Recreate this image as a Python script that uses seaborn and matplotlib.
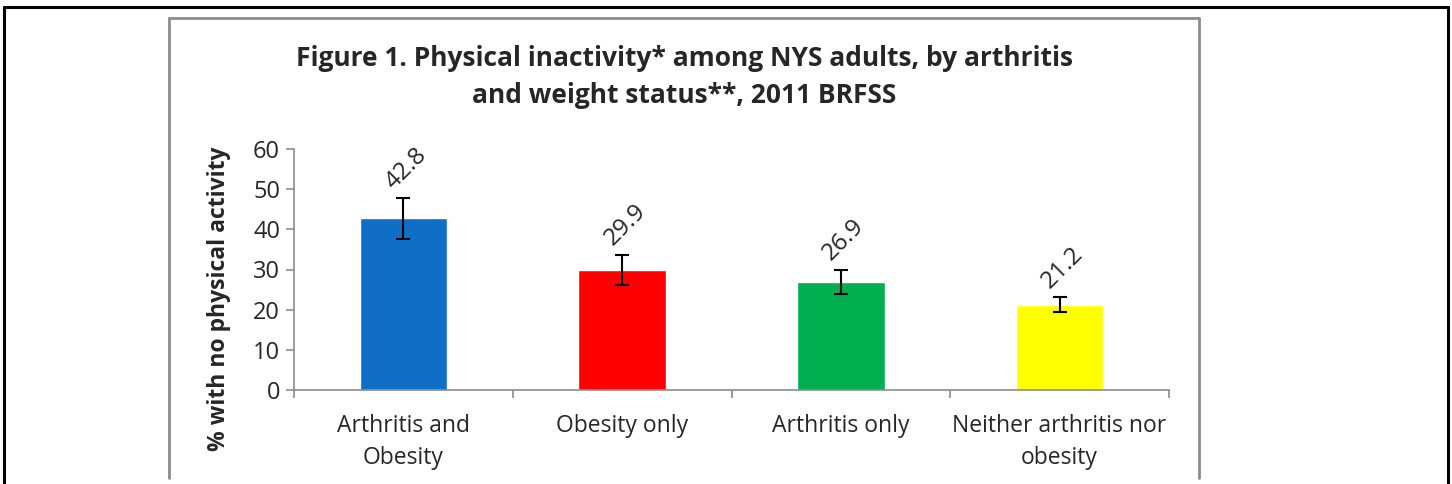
import pandas as pd
import seaborn as sns
import matplotlib.pyplot as plt
from matplotlib.lines import Line2D

sns.set_style("white")
plt.rcParams['font.family'] = ['Open Sans', 'DejaVu Sans']

# data
groups = ["Arthritis and\nObesity", "Obesity only", "Arthritis only", "Neither arthritis nor\nobesity"]
pct = [42.8, 29.9, 26.9, 21.2]
ci_low = [37.7, 26.1, 23.8, 19.3]
ci_high = [47.8, 33.7, 30.0, 23.1]
colors = ["#0F6FC6", "#FF0000", "#00B050", "#FFFF00"]

df = pd.DataFrame({"group": groups, "pct": pct})

fig = plt.figure(figsize=(14.52, 4.84), dpi=100)
ax = fig.add_axes([294 / 1452, 1 - 390 / 484, (1169 - 294) / 1452, (390 - 149) / 484])

sns.barplot(data=df, x="group", y="pct", hue="group", palette=colors, saturation=1,
            width=0.4, errorbar=None, legend=False, ax=ax)

yerr = [[p - lo for p, lo in zip(pct, ci_low)], [hi - p for p, hi in zip(pct, ci_high)]]
ax.errorbar(range(len(groups)), pct, yerr=yerr, fmt="none", ecolor="black",
            elinewidth=1.5, capsize=5, capthick=1.5)

for i, (p, hi) in enumerate(zip(pct, ci_high)):
    ax.annotate(f"{p:.1f}", (i, hi), xytext=(-4, 3), textcoords="offset points",
                rotation=45, ha="left", va="bottom", fontsize=17.5,
                rotation_mode="anchor")

ax.set_ylim(0, 60)
ax.set_xlim(-0.5, 3.5)
ax.set_yticks(range(0, 61, 10))
ax.tick_params(axis="y", labelsize=17, length=6, width=1.2, color="#8c8c8c", left=True, pad=4)
ax.tick_params(axis="x", which="major", labelsize=16.5, length=0, pad=17)
for lbl in ax.get_xticklabels():
    lbl.set_linespacing(1.45)
ax.set_xticks([-0.5, 0.5, 1.5, 2.5, 3.5], minor=True)
ax.tick_params(axis="x", which="minor", length=6, width=1.2, color="#8c8c8c", bottom=True)
ax.set_xlabel("")
ax.set_ylabel("% with no physical activity", fontsize=16.5, fontweight="bold")
ax.yaxis.set_label_coords(-0.072, 0.38)
for side in ["top", "right"]:
    ax.spines[side].set_visible(False)
for side in ["left", "bottom"]:
    ax.spines[side].set_color("#8c8c8c")
    ax.spines[side].set_linewidth(1.2)

fig.text(684 / 1452, 1 - 77 / 484,
         "Figure 1. Physical inactivity* among NYS adults, by arthritis\nand weight status**, 2011 BRFSS",
         ha="center", va="center", fontsize=19, fontweight="bold", linespacing=1.45)

# outer page border and chart frame
def px(x, y):
    return x / 1452, 1 - y / 484

for xs, ys, c, lw in [
    ([4, 4], [7, 484], "black", 2.2),
    ([4, 1448], [7, 7], "black", 2.2),
    ([1448, 1448], [7, 484], "black", 2.2),
    ([169, 169], [18, 478], "#8c8c8c", 2),
    ([169, 1199], [18, 18], "#8c8c8c", 2),
    ([1199, 1199], [18, 478], "#8c8c8c", 2),
]:
    p0, p1 = px(xs[0], ys[0]), px(xs[1], ys[1])
    fig.add_artist(Line2D([p0[0], p1[0]], [p0[1], p1[1]], color=c, lw=lw))

fig.savefig("out.png", dpi=100)
